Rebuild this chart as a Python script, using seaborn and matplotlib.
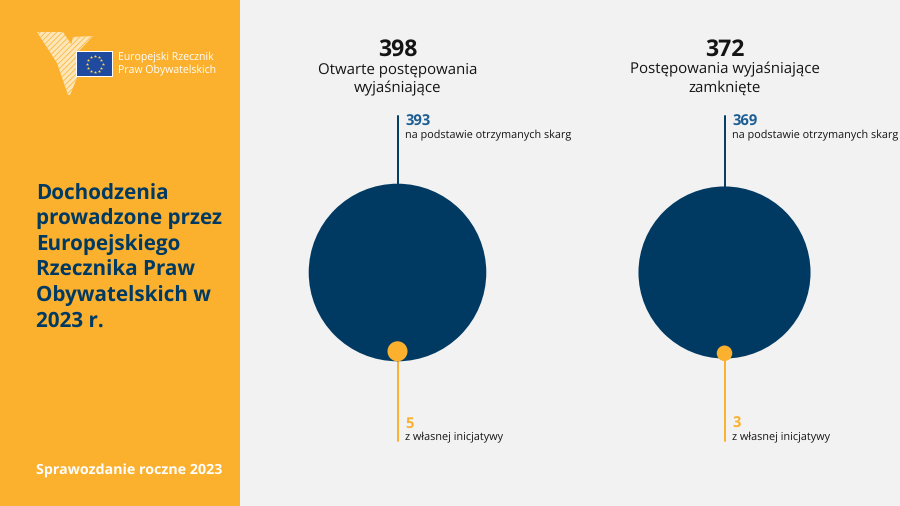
import numpy as np
import pandas as pd
import matplotlib
matplotlib.use('Agg')
import matplotlib.pyplot as plt
from matplotlib.patches import Polygon, Rectangle
import seaborn as sns

sns.set_style('white')
plt.rcParams['font.family'] = ['Open Sans', 'DejaVu Sans']
plt.rcParams['text.hinting'] = 'none'
plt.rcParams['hatch.linewidth'] = 0.5

# --- data ---
totals = [398, 372]
titles = ['Otwarte postępowania\nwyjaśniające', 'Postępowania wyjaśniające\nzamknięte']
complaints = [393, 369]
own_initiative = [5, 3]
complaints_label = 'na podstawie otrzymanych skarg'
own_label = 'z własnej inicjatywy'
panel_title = 'Dochodzenia\nprowadzone przez\nEuropejskiego\nRzecznika Praw\nObywatelskich w\n2023 r.'
logo_text = 'Europejski Rzecznik\nPraw Obywatelskich'
footer = 'Sprawozdanie roczne 2023'

ORANGE = '#FBB12E'
NAVY = '#003A63'
BLUE = '#1C5E93'
BG = '#F2F2F2'
INK = '#141414'

# layout in pixels
col_x = [397.5, 724.5]
center_y = 272.5
dpi = 100
AREA_PER_CASE = 41.6  # pt^2 for one case, same scale for all bubbles


def radius_px(v):
    return np.sqrt(AREA_PER_CASE * v) / 2 / 0.72


fig = plt.figure(figsize=(9, 5.0601), dpi=dpi, facecolor=BG)
ax = fig.add_axes([0, 0, 1, 1])
ax.set_xlim(0, 900)
ax.set_ylim(506, 0)
ax.axis('off')

# side panel
ax.add_patch(Rectangle((0, 0), 240, 506, color=ORANGE, lw=0, zorder=0))
ax.text(36, 258, panel_title, color=NAVY, fontsize=14.85, fontweight='bold',
        va='center', ha='left', linespacing=1.28)
ax.text(36, 470.5, footer, color='white', fontsize=10.25, fontweight='bold', va='center')

# logo
for pts in ([(37, 32), (63, 32), (77, 53), (77, 78), (70, 95), (68, 95), (57, 63)],
            [(73, 37), (93, 36), (77, 53), (70, 50)]):
    ax.add_patch(Polygon(pts, facecolor='#FDE6B8', edgecolor=ORANGE, hatch='//////', lw=0))
ax.add_patch(Rectangle((76, 51), 37, 26, color='white', lw=0))
ax.add_patch(Rectangle((77, 52), 35, 24, color='#1F4AA0', lw=0))
angles = np.deg2rad(np.arange(0, 360, 30))
ax.scatter(94.5 + 8 * np.cos(angles), 64 + 8 * np.sin(angles), s=6, marker='*',
           color='#FFD84A', linewidths=0)
ax.text(118, 64, logo_text, color='white', fontsize=7.6, va='center', ha='left', linespacing=1.2)

# stems
for x, big, small in zip(col_x, complaints, own_initiative):
    ax.plot([x, x], [116, center_y - radius_px(big) + 2], color=NAVY, lw=1.4, zorder=1)
    ax.plot([x, x], [center_y + radius_px(big) - 5, 441], color=ORANGE, lw=1.4, zorder=1)

# bubbles
big_df = pd.DataFrame({'x': col_x, 'y': [center_y] * 2, 'cases': complaints})
small_df = pd.DataFrame({
    'x': col_x,
    'y': [center_y + radius_px(b) - radius_px(s) + o
          for b, s, o in zip(complaints, own_initiative, [0, 2.5])],
    'cases': own_initiative,
})
size_range = (AREA_PER_CASE * 3, AREA_PER_CASE * 393)
sns.scatterplot(data=big_df, x='x', y='y', size='cases', sizes=size_range, size_norm=(3, 393),
                color=NAVY, linewidth=0, legend=False, ax=ax, zorder=2)
sns.scatterplot(data=small_df, x='x', y='y', size='cases', sizes=size_range, size_norm=(3, 393),
                color=ORANGE, linewidth=0, legend=False, ax=ax, zorder=3)
ax.set_xlim(0, 900)
ax.set_ylim(506, 0)
ax.axis('off')

# texts
for x, total, title, big, small in zip(col_x, totals, titles, complaints, own_initiative):
    ax.text(x, 50, str(total), color=INK, fontsize=16.6, fontweight='bold', ha='center', va='center')
    ax.text(x, 79, title, color=INK, fontsize=10.8, ha='center', va='center', linespacing=1.29)
    ax.text(x + 7.5, 121.5, str(big), color=BLUE, fontsize=10.6, fontweight='bold', va='center')
    ax.text(x + 7.5, 135, complaints_label, color=INK, fontsize=7.85, va='center')
    ax.text(x + 7.5, 423.5, str(small), color=ORANGE, fontsize=10.6, fontweight='bold', va='center')
    ax.text(x + 7.5, 437.5, own_label, color=INK, fontsize=7.85, va='center')

fig.savefig('out.png', dpi=dpi, facecolor=BG)
